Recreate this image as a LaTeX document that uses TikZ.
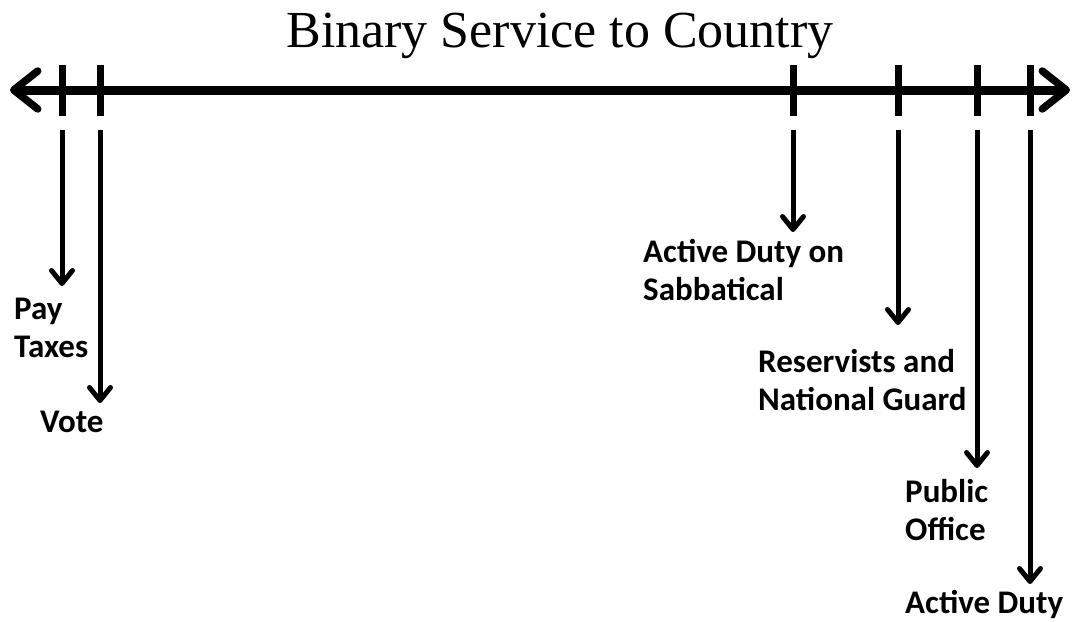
\documentclass[tikz,border=0pt]{standalone}
\usepackage{fontspec}
\setmainfont{Liberation Serif}
\newfontfamily\labelfont{Carlito}
\usetikzlibrary{arrows.meta,positioning}

\begin{document}
\begin{tikzpicture}[x=1pt,y=-1pt]
	\tikzstyle{Title}	= [inner sep=0pt, anchor=base, font=\fontsize{52}{60}\selectfont]
	\tikzstyle{Axis}	= [line width=9pt, {Straight Barb[length=24pt,width=38pt,line width=7.5pt,round]}-{Straight Barb[length=24pt,width=38pt,line width=7.5pt,round]}]
	\tikzstyle{Tick}	= [line width=7pt]
	\tikzstyle{Drop}	= [line width=5pt, -{Straight Barb[length=13pt,width=21pt,line width=5pt,round]}]
	\tikzstyle{Label}	= [inner sep=0pt, anchor=base west, align=left, font=\labelfont\bfseries\fontsize{33}{38}\selectfont]

	\useasboundingbox (0,0) rectangle (1076,621);

	\node (title) at (560,47) [Title] {Binary Service to Country};

	% the line
	\coordinate (left) at (10,90);
	\coordinate (right) at (1070,90);
	\draw [Axis] (left) -- (right);

	% ticks
	\coordinate (t1) at (62,65);	\coordinate (b1) at (62,116);
	\coordinate (t2) at (100,65);	\coordinate (b2) at (100,116);
	\coordinate (t3) at (793,65);	\coordinate (b3) at (793,116);
	\coordinate (t4) at (898,65);	\coordinate (b4) at (898,116);
	\coordinate (t5) at (977,65);	\coordinate (b5) at (977,116);
	\coordinate (t6) at (1030,65);	\coordinate (b6) at (1030,116);
	\draw [Tick] (t1) -- (b1);
	\draw [Tick] (t2) -- (b2);
	\draw [Tick] (t3) -- (b3);
	\draw [Tick] (t4) -- (b4);
	\draw [Tick] (t5) -- (b5);
	\draw [Tick] (t6) -- (b6);

	% labels (placed by the baseline of their last line)
	\node (pay) at (14,357) [Label] {Pay\\Taxes};
	\node (vote) at (40,432) [Label] {Vote};
	\node (sabbatical) at (643,300) [Label] {Active Duty on\\Sabbatical};
	\node (reserve) at (758,410) [Label] {Reservists and\\National Guard};
	\node (office) at (905,540) [Label] {Public\\Office};
	\node (duty) at (905,613) [Label] {Active Duty};

	% arrows down
	\coordinate (s1) at (62,130);	\coordinate (e1) at (62,286);
	\coordinate (s2) at (100,130);	\coordinate (e2) at (100,403);
	\coordinate (s3) at (793,130);	\coordinate (e3) at (793,232);
	\coordinate (s4) at (898,130);	\coordinate (e4) at (898,325);
	\coordinate (s5) at (977,130);	\coordinate (e5) at (977,468);
	\coordinate (s6) at (1030,130);	\coordinate (e6) at (1030,584);
	\draw [Drop] (s1) to (e1);
	\draw [Drop] (s2) to (e2);
	\draw [Drop] (s3) to (e3);
	\draw [Drop] (s4) to (e4);
	\draw [Drop] (s5) to (e5);
	\draw [Drop] (s6) to (e6);
\end{tikzpicture}
\end{document}
